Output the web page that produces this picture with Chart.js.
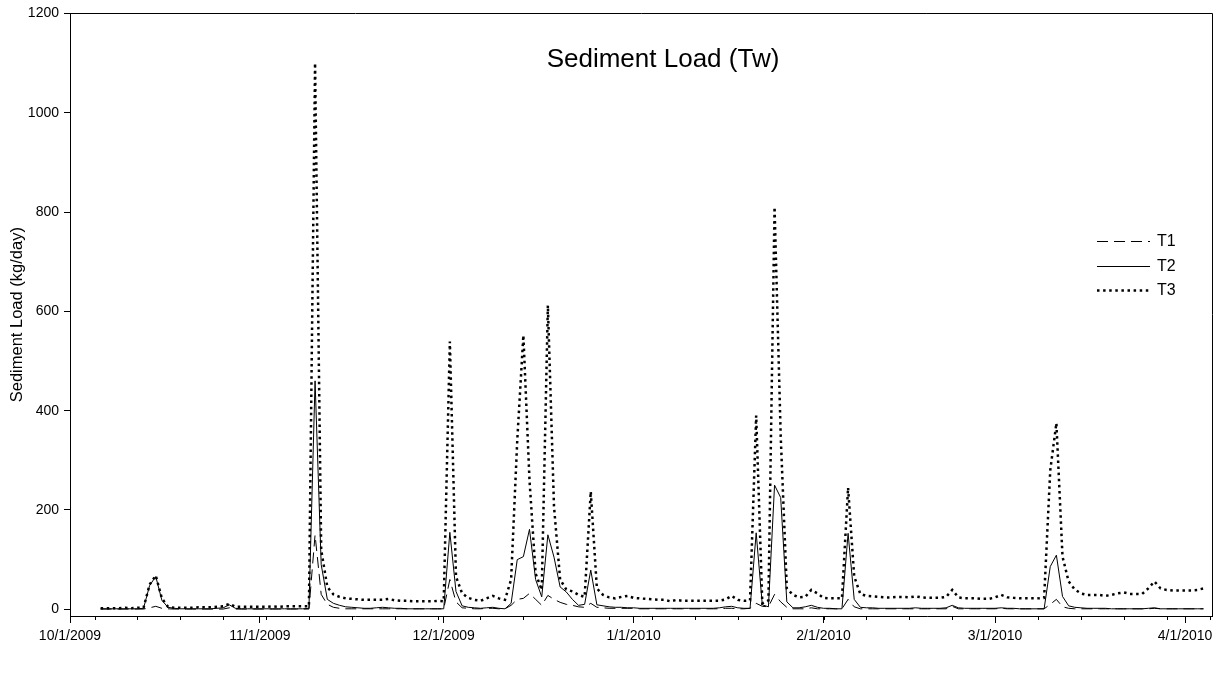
<!DOCTYPE html>
<html>
<head>
<meta charset="utf-8">
<title>Sediment Load (Tw)</title>
<script src="https://cdn.jsdelivr.net/npm/chart.js@4.4.0/dist/chart.umd.min.js"></script>
<style>
     body { margin: 0; background: #ffffff; }
</style>
</head>
<body>
<canvas id="sedimentChart" width="1220" height="680"></canvas>
<script>
// one value per day, first value is 10/6/2009
const startDate = '10/6/2009';
const monthTicks = ['10/1/2009', '11/1/2009', '12/1/2009', '1/1/2010', '2/1/2010', '3/1/2010', '4/1/2010'];
const firstMinorTick = '10/5/2009'; // minor ticks every 7 days from here
const yTicks = [0, 200, 400, 600, 800, 1000, 1200];
const seriesNames = ['T1', 'T2', 'T3'];
const chartTitle = 'Sediment Load (Tw)';
const yTitle = 'Sediment Load (kg/day)';

const t1Values = [
     0.5, 0.5, 0.5, 0.5, 0.5, 0.5, 0.5, 0.5, 3, 6, 2, 1, 0.5, 0.5, 0.5, 0.5, 0.5, 0.5, 0.5, 0.5, 0.5, 3, 0.5, 0.5, 0.5, 0.5,
     0.5, 0.5, 0.5, 0.5, 0.5, 0.5, 0.5, 0.5, 0.5, 150, 30, 10, 4, 2, 1, 1, 1, 1, 1, 1, 1, 1, 1, 1, 1, 1, 1, 1, 1, 1,
     1, 60, 15, 3, 2, 1, 1, 2, 2, 1, 1, 8, 20, 22, 32, 20, 8, 28, 20, 14, 10, 8, 5, 4, 12, 4, 3, 2, 2, 2, 2,
     2, 1, 1, 1, 1, 1, 1, 1, 1, 1, 1, 1, 1, 1, 1, 2, 2, 1, 1, 2, 12, 6, 5, 30, 15, 4, 1, 1, 1, 3, 1,
     1, 1, 1, 1, 20, 5, 1, 1, 1, 1, 1, 1, 1, 1, 1, 1, 1, 1, 1, 1, 1, 6, 1, 1, 1, 1, 1, 1,
     1, 2, 1, 1, 1, 1, 1, 1, 1, 10, 20, 5, 2, 1, 1, 1, 1, 1, 1, 1, 1, 1, 1, 1, 1, 1, 2, 1, 1, 1, 1,
     1, 1, 1, 1
];
const t2Values = [
     1, 1, 1, 1, 1, 1, 1, 2, 48, 66, 18, 4, 2, 1, 1, 1, 1, 1, 1, 2, 3, 9, 2, 1, 1, 1,
     1, 1, 1, 1, 1, 1, 1, 1, 2, 460, 90, 20, 12, 8, 5, 4, 3, 2, 2, 3, 4, 3, 2, 2, 1, 1, 1, 1, 1, 1,
     1, 155, 36, 7, 4, 3, 2, 3, 4, 2, 1, 12, 100, 106, 161, 60, 25, 150, 105, 45, 35, 20, 8, 10, 79, 9, 7, 5, 4, 4, 3,
     3, 2, 2, 2, 2, 2, 2, 2, 2, 2, 2, 2, 2, 2, 3, 5, 6, 3, 2, 2, 154, 9, 5, 250, 225, 15, 3, 3, 5, 8, 4,
     2, 2, 1, 1, 153, 20, 4, 3, 3, 2, 2, 2, 2, 2, 2, 3, 2, 2, 2, 2, 3, 8, 3, 2, 2, 2, 2, 2,
     2, 3, 2, 2, 1, 1, 1, 1, 1, 86, 109, 26, 7, 4, 3, 2, 2, 2, 2, 1, 1, 1, 1, 1, 1, 2, 3, 1, 1, 1, 1,
     1, 1, 1, 1
];
const t3Values = [
     2, 2, 2, 2, 3, 2, 3, 3, 50, 68, 22, 5, 3, 3, 3, 3, 4, 4, 4, 5, 6, 11, 5, 5, 5, 5,
     5, 5, 6, 5, 6, 6, 6, 6, 6, 1100, 120, 45, 30, 25, 22, 21, 20, 19, 19, 19, 19, 21, 18, 17, 17, 16, 16, 16, 16, 17,
     16, 539, 66, 32, 23, 19, 17, 22, 27, 22, 19, 60, 340, 552, 260, 72, 39, 612, 207, 60, 40, 36, 29, 25, 237, 42, 29, 24, 22, 25, 27,
     23, 22, 21, 20, 19, 19, 16, 19, 17, 17, 17, 17, 17, 17, 17, 20, 27, 19, 17, 18, 390, 12, 18, 810, 350, 42, 29, 24, 25, 39, 32,
     23, 22, 22, 22, 245, 66, 31, 27, 26, 25, 24, 24, 25, 25, 24, 26, 24, 23, 23, 23, 25, 39, 24, 22, 22, 22, 21, 21,
     24, 29, 24, 23, 22, 22, 22, 22, 23, 280, 375, 106, 56, 40, 32, 29, 29, 29, 27, 29, 32, 34, 31, 31, 31, 42, 56, 42, 39, 38, 38,
     38, 38, 39, 42
];

const fontFamily = '"Liberation Sans", Arial, Helvetica, sans-serif';

// days since the first month tick
function dayOf(str) {
     var p = str.split('/');
     var o = monthTicks[0].split('/');
     return (Date.UTC(+p[2], p[0] - 1, +p[1]) - Date.UTC(+o[2], o[0] - 1, +o[1])) / 86400000;
}

function toPoints(values) {
     var first = dayOf(startDate);
     return values.map((v, i) => ({ x: first + i, y: v }));
}

// minor ticks, top and right frame lines
const frameAndMinorTicks = {
     id: 'frameAndMinorTicks',
     afterDraw(chart) {
          const ctx = chart.ctx;
          const x = chart.scales.x;
          const area = chart.chartArea;
          ctx.save();
          ctx.strokeStyle = '#000';
          ctx.lineWidth = 1;
          ctx.beginPath();
          for (let d = dayOf(firstMinorTick); d <= x.max; d += 7) {
               const px = Math.round(x.getPixelForValue(d)) + 0.5;
               ctx.moveTo(px, area.bottom);
               ctx.lineTo(px, area.bottom + 4);
          }
          ctx.moveTo(area.left, Math.round(area.top) + 0.5);
          ctx.lineTo(Math.round(area.right) + 0.5, Math.round(area.top) + 0.5);
          ctx.lineTo(Math.round(area.right) + 0.5, area.bottom);
          ctx.stroke();
          ctx.restore();
     }
};

// title and legend sit inside the plot area
const innerLabels = {
     id: 'innerLabels',
     afterDraw(chart) {
          const ctx = chart.ctx;
          ctx.save();
          ctx.fillStyle = '#000';
          ctx.font = '26px ' + fontFamily;
          ctx.textAlign = 'center';
          ctx.textBaseline = 'middle';
          ctx.fillText(chartTitle, 663, 60);

          ctx.font = '16px ' + fontFamily;
          ctx.textAlign = 'left';
          chart.data.datasets.forEach((ds, i) => {
               const y = Math.round(241 + i * 24.5) + 0.5;
               ctx.beginPath();
               ctx.strokeStyle = ds.borderColor;
               ctx.lineWidth = ds.borderWidth;
               ctx.setLineDash(ds.borderDash || []);
               ctx.moveTo(1097, y);
               ctx.lineTo(1150, y);
               ctx.stroke();
               ctx.setLineDash([]);
               ctx.fillText(ds.label, 1157, y);
          });
          ctx.restore();
     }
};

function createSedimentChart() {
     var ctx = document.getElementById('sedimentChart').getContext('2d');

     window.sedimentChart = new Chart(ctx, {
          type: 'line',
          data: {
               datasets: [
                    { label: seriesNames[0], data: toPoints(t1Values), borderColor: '#000', borderWidth: 1, borderDash: [11, 6] },
                    { label: seriesNames[1], data: toPoints(t2Values), borderColor: '#000', borderWidth: 1 },
                    { label: seriesNames[2], data: toPoints(t3Values), borderColor: '#000', borderWidth: 2.5, borderDash: [2.5, 3.6] }
               ]
          },
          options: {
               responsive: false,
               animation: false,
               layout: { padding: { top: 13, right: 8, left: 0, bottom: 0 } },
               elements: {
                    point: { radius: 0 },
                    line: { tension: 0, fill: false }
               },
               plugins: {
                    legend: { display: false },
                    tooltip: { enabled: false }
               },
               scales: {
                    x: {
                         type: 'linear',
                         min: 0,
                         max: 186.4,
                         afterBuildTicks: s => { s.ticks = monthTicks.map(t => ({ value: dayOf(t) })); },
                         afterFit: s => { s.height = 64; },
                         grid: { drawOnChartArea: false, tickLength: 7, color: '#000' },
                         border: { color: '#000' },
                         ticks: {
                              autoSkip: false,
                              maxRotation: 0,
                              padding: 5,
                              color: '#000',
                              font: { family: fontFamily, size: 14 },
                              callback: (v, i) => monthTicks[i]
                         }
                    },
                    y: {
                         min: -13.5,
                         max: 1200,
                         afterBuildTicks: s => { s.ticks = yTicks.map(v => ({ value: v })); },
                         afterFit: s => { s.width = 70; },
                         grid: { drawOnChartArea: false, tickLength: 6, color: '#000' },
                         border: { color: '#000' },
                         ticks: {
                              padding: 5,
                              color: '#000',
                              font: { family: fontFamily, size: 14 },
                              callback: v => String(v)
                         },
                         title: {
                              display: true,
                              text: yTitle,
                              color: '#000',
                              font: { family: fontFamily, size: 16.5 },
                              padding: { top: 8, bottom: 0 }
                         }
                    }
               }
          },
          plugins: [frameAndMinorTicks, innerLabels]
     });
}

document.addEventListener('DOMContentLoaded', function () {
     createSedimentChart();
});
</script>
</body>
</html>
